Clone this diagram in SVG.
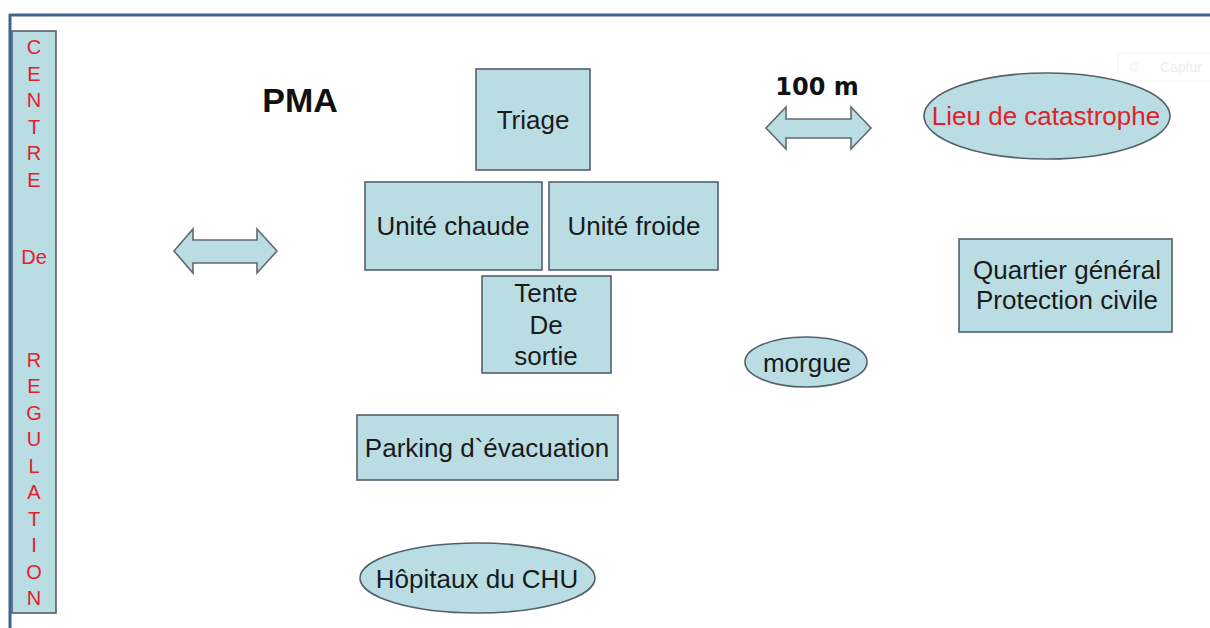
<svg xmlns="http://www.w3.org/2000/svg" width="1210" height="628" viewBox="0 0 1210 628">
  <style>
    .box { fill: #b9dde3; stroke: #53606a; stroke-width: 1.6; }
    .arrow { fill: #b9dde3; stroke: #5f6b70; stroke-width: 1.6; stroke-linejoin: miter; }
    .lbl { font-family: "Liberation Sans", Arial, sans-serif; font-size: 26px; fill: #1a1a1a; text-anchor: middle; }
    .red { fill: #e3202b; }
    .vert { font-family: "Liberation Sans", Arial, sans-serif; font-size: 20px; fill: #e3202b; text-anchor: middle; }
  </style>

  <rect width="1210" height="628" fill="#ffffff"/>
  <!-- slide frame -->
  <line x1="9" y1="15" x2="1210" y2="15" stroke="#3f6491" stroke-width="3"/>
  <line x1="10" y1="14" x2="10" y2="628" stroke="#3f6491" stroke-width="3"/>

  <!-- faint overlay badge -->
  <g id="badge" opacity="0.5">
    <rect x="1118" y="53" width="100" height="28" rx="3" fill="#ffffff" stroke="#eeeeee"/>
    <text x="1134" y="72" font-family="Liberation Sans, Arial, sans-serif" font-size="13" fill="#dddddd" text-anchor="middle">©</text>
    <text x="1160" y="72" font-family="Liberation Sans, Arial, sans-serif" font-size="14" fill="#dddddd">Captur</text>
  </g>

  <!-- vertical banner -->
  <g id="centre-regulation">
    <rect class="box" x="12" y="31" width="44" height="582"/>
    <text class="vert" x="34" y="54">C</text>
    <text class="vert" x="34" y="80.5">E</text>
    <text class="vert" x="34" y="107">N</text>
    <text class="vert" x="34" y="133.5">T</text>
    <text class="vert" x="34" y="160">R</text>
    <text class="vert" x="34" y="186.5">E</text>
    <text class="vert" x="34" y="264">De</text>
    <text class="vert" x="34" y="366.5">R</text>
    <text class="vert" x="34" y="393">E</text>
    <text class="vert" x="34" y="419.5">G</text>
    <text class="vert" x="34" y="446">U</text>
    <text class="vert" x="34" y="472.5">L</text>
    <text class="vert" x="34" y="499">A</text>
    <text class="vert" x="34" y="525.5">T</text>
    <text class="vert" x="34" y="552">I</text>
    <text class="vert" x="34" y="578.5">O</text>
    <text class="vert" x="34" y="605">N</text>
  </g>

  <text id="pma" x="300" y="112" font-family="Liberation Sans, Arial, sans-serif" font-size="34" font-weight="bold" fill="#111" text-anchor="middle">PMA</text>

  <g id="triage">
    <rect class="box" x="476" y="69" width="114" height="101"/>
    <text class="lbl" x="533" y="129">Triage</text>
  </g>
  <g id="unite-chaude">
    <rect class="box" x="365" y="182" width="177" height="88"/>
    <text class="lbl" x="453" y="235">Unité chaude</text>
  </g>
  <g id="unite-froide">
    <rect class="box" x="549" y="182" width="169" height="88"/>
    <text class="lbl" x="634" y="235">Unité froide</text>
  </g>
  <g id="tente-sortie">
    <rect class="box" x="482" y="276" width="129" height="97"/>
    <text class="lbl" x="546" y="302">Tente</text>
    <text class="lbl" x="546" y="334">De</text>
    <text class="lbl" x="546" y="365">sortie</text>
  </g>
  <g id="parking">
    <rect class="box" x="357" y="415" width="261" height="65"/>
    <text class="lbl" x="487" y="457">Parking d`évacuation</text>
  </g>
  <g id="hopitaux">
    <ellipse class="box" cx="477.5" cy="578" rx="117.5" ry="35"/>
    <text class="lbl" x="477" y="588">Hôpitaux du CHU</text>
  </g>
  <g id="morgue">
    <ellipse class="box" cx="806" cy="362" rx="61" ry="25"/>
    <text class="lbl" x="807" y="372">morgue</text>
  </g>
  <g id="lieu-catastrophe">
    <ellipse class="box" cx="1047" cy="116" rx="123" ry="43"/>
    <text class="lbl red" x="1046" y="125">Lieu de catastrophe</text>
  </g>
  <g id="quartier-general">
    <rect class="box" x="959" y="239" width="213" height="93"/>
    <text class="lbl" x="1067" y="279">Quartier général</text>
    <text class="lbl" x="1067" y="309">Protection civile</text>
  </g>

  <!-- double-headed distance arrows -->
  <g id="connectors">
    <path class="arrow" d="M174,251 L193,229 L193,240 L257,240 L257,229 L277,251 L257,273 L257,263 L193,263 L193,273 Z"/>
    <path class="arrow" d="M766,128 L786,107 L786,119 L851,119 L851,107 L871,128 L851,149 L851,138 L786,138 L786,149 Z"/>
    <text x="817" y="95" font-family="DejaVu Sans, Verdana, sans-serif" font-size="24" font-weight="bold" fill="#111" text-anchor="middle">100 m</text>
  </g>
</svg>
